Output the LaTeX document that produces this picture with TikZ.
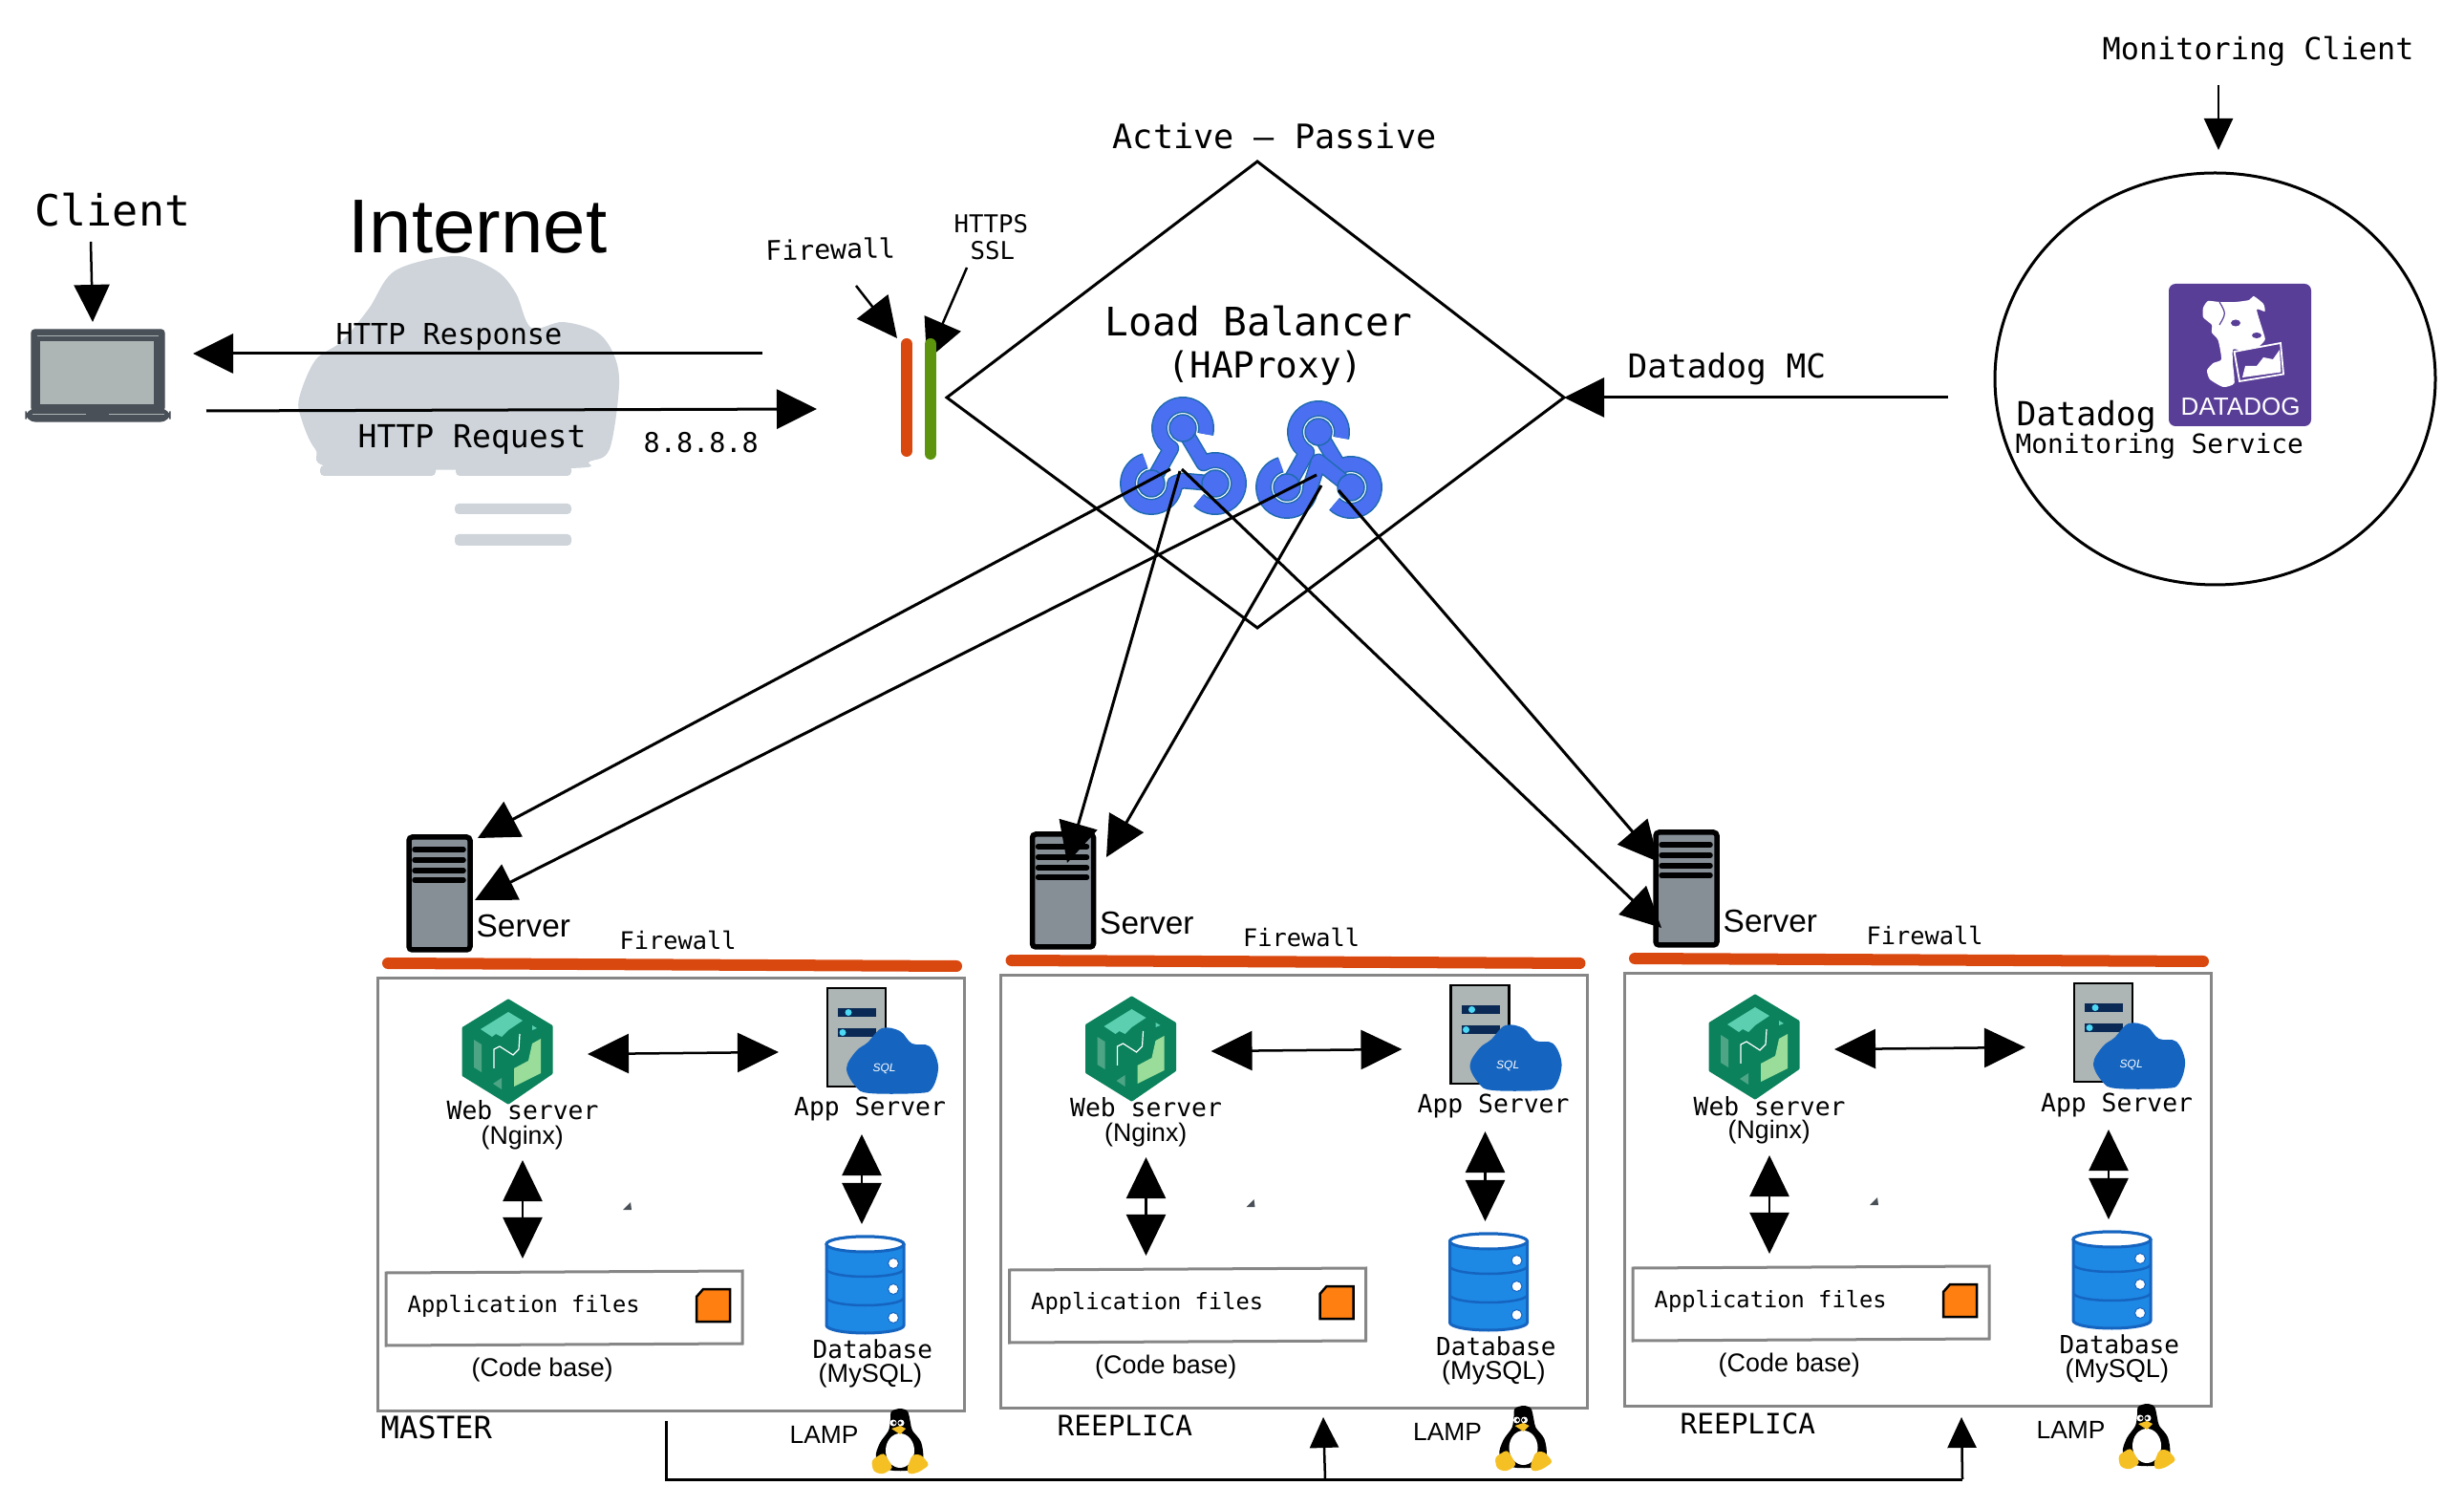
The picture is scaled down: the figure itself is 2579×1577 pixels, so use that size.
\documentclass[tikz,border=0pt]{standalone}
\usepackage{fontspec}
\setmainfont{Liberation Sans}
\setmonofont{DejaVu Sans Mono}
\definecolor{wallorange}{HTML}{D9480F}
\definecolor{wallgreen}{HTML}{5C940D}
\definecolor{cloudgray}{HTML}{CED4DA}
\definecolor{laptopdark}{HTML}{495057}
\definecolor{laptopscreen}{HTML}{ADB5B5}
\definecolor{towergray}{HTML}{868E96}
\definecolor{boxgray}{HTML}{868686}
\definecolor{hookfill}{HTML}{4A6FF0}
\definecolor{hookedge}{HTML}{1F6BB0}
\definecolor{dogpurple}{HTML}{593E98}
\definecolor{nginxdark}{HTML}{0B825C}
\definecolor{nginxteal}{HTML}{5BCFAF}
\definecolor{nginxmute}{HTML}{4DA586}
\definecolor{nginxlight}{HTML}{9ADD9A}
\definecolor{sqlblue}{HTML}{1565C0}
\definecolor{dbblue}{HTML}{1E88E5}
\definecolor{slotnavy}{HTML}{0A2A55}
\definecolor{slotcyan}{HTML}{4DD9F5}
\definecolor{fileorange}{HTML}{FF7F11}
\definecolor{tuxyellow}{HTML}{F5C024}
\usetikzlibrary{arrows.meta}
\tikzset{
  pics/webhook/.style={code={
    \draw[hookring] (-33,58) -- (120:24.5) arc[start angle=120, end angle=375, radius=24.5];
    \draw[hookring] (0,0) -- ([shift={(240:24.5)}]34,58) arc[start angle=240, end angle=495, radius=24.5];
    \draw[hookring] (34,58) -- (0,#1) -- ([shift={(0:24.5)}]-33,58) arc[start angle=0, end angle=255, radius=24.5];
    \foreach \dotx/\doty in {0/0,-33/58,34/58}
      \filldraw[draw=hookedge, fill=hookfill, line width=0.15mm] (\dotx,\doty) circle[radius=14];
  }},
  pics/tower/.style={code={
    \draw[line width=0.55mm, fill=towergray, rounded corners=1pt] (0,0) rectangle (64,118);
    \foreach \bary in {13,24,35,45}
      \draw[line width=0.55mm, line cap=round] (6,\bary) -- (57,\bary);
  }}
}

\begin{document}
\begin{tikzpicture}[
  x=0.01cm, y=-0.01cm,
  monolabel/.style={font=\ttfamily\fontsize{#1}{#1}\selectfont, anchor=base west, inner sep=0pt},
  sanslabel/.style={font=\fontsize{#1}{#1}\selectfont, anchor=base west, inner sep=0pt},
  hookring/.style={draw=hookedge, double=hookfill, double distance=1.4mm, line width=0.15mm, line join=round},
  bigarrow/.style={-{Triangle[length=4.2mm, width=4.1mm]}, line width=0.3mm},
  smallarrow/.style={-{Triangle[length=3.2mm, width=3mm]}, line width=0.25mm},
  pairarrow/.style={{Triangle[length=4.3mm, width=4.1mm]}-{Triangle[length=4.3mm, width=4.1mm]}, line width=0.25mm},
  wallbar/.style={line width=1.2mm, line cap=round},
  graybox/.style={draw=boxgray, line width=0.3mm}
]
  \useasboundingbox (0,0) rectangle (2579,1577);

  % Client and laptop
  \node[monolabel=12.8] (client) at (36,237) {Client};
  \filldraw[laptopdark, rounded corners=1pt] (33,345) rectangle (172,430);
  \filldraw[laptopdark, rounded corners=3pt] (27,428) rectangle (178,441);
  \fill[laptopscreen] (42,357) rectangle (161,423);
  \draw[laptopscreen, line width=0.1mm] (39,352) -- (166,352);
  \draw[laptopscreen, line width=0.1mm] (34,434) -- (90,434);
  \draw[laptopscreen, line width=0.1mm] (114,434) -- (172,434);
  \coordinate (clientfrom) at (95,253);
  \coordinate (laptoptop) at (97,337);
  \draw[smallarrow, -{Triangle[length=3.9mm, width=3.7mm]}] (clientfrom) -- (laptoptop);

  % Internet cloud
  \fill[cloudgray] plot[smooth cycle, tension=0.55] coordinates {
    (313,417) (330,377) (358,357) (386,323) (414,283) (477,268) (519,283) (540,307)
    (556,343) (589,337) (624,347) (642,370) (648,403) (638,470) (617,483) (596,490)
    (358,490) (330,470) (316,440)};
  \fill[cloudgray, rounded corners=1.2pt] (335,487) rectangle (456,498);
  \fill[cloudgray, rounded corners=1.2pt] (477,487) rectangle (598,498);
  \fill[cloudgray, rounded corners=1.2pt] (476,527) rectangle (598,538);
  \fill[cloudgray, rounded corners=1.2pt] (476,559) rectangle (598,571);
  \node[sanslabel=22.7] (internet) at (364,265) {Internet};

  % Traffic between the laptop and the firewall
  \coordinate (responsefrom) at (798,370);
  \coordinate (responseto) at (202,370);
  \coordinate (requestfrom) at (216,430);
  \coordinate (requestto) at (855,428);
  \draw[bigarrow] (responsefrom) -- (responseto);
  \draw[bigarrow] (requestfrom) -- (requestto);
  \node[monolabel=8.6] (response) at (351,361) {HTTP Response};
  \node[monolabel=9.4] (request) at (374,469) {HTTP Request};
  \node[monolabel=8.1] (dnsip) at (673,474) {8.8.8.8};

  % Firewall and SSL
  \node[monolabel=8, rotate=1.4] (frontwall) at (801,273) {Firewall};
  \node[monolabel=7.3] (https) at (998,244) {HTTPS};
  \node[monolabel=7.3] (ssl) at (1015,272) {SSL};
  \coordinate (wallfrom) at (896,299);
  \coordinate (wallto) at (939,354);
  \coordinate (sslfrom) at (1012,280);
  \coordinate (sslto) at (970,377);
  \draw[bigarrow, line width=0.25mm] (wallfrom) -- (wallto);
  \draw[bigarrow, line width=0.25mm] (sslfrom) -- (sslto);
  \draw[wallbar, wallorange] (949,360) -- (949,472);
  \draw[wallbar, wallgreen] (974,360) -- (974,475);

  % Load balancer
  \coordinate (lbleft) at (991,416);
  \coordinate (lbtop) at (1316,169);
  \coordinate (lbright) at (1637,416);
  \coordinate (lbbottom) at (1316,657);
  \draw[line width=0.3mm] (lbleft) -- (lbtop) -- (lbright) -- (lbbottom) -- cycle;
  \node[monolabel=10] (activepassive) at (1164,156) {Active – Passive};
  \node[monolabel=11.7] (lbname) at (1156,352) {Load Balancer};
  \node[monolabel=10.7] (lbproxy) at (1222,396) {(HAProxy)};
  \pic (hookone) at (1238,448) {webhook=55};
  \pic (hooktwo) at (1380,452) {webhook=31};

  % Datadog
  \node[monolabel=9.05] (monclient) at (2200,63) {Monitoring Client};
  \coordinate (monfrom) at (2322,89);
  \coordinate (monto) at (2322,157);
  \draw[-{Triangle[length=3.3mm, width=3mm]}, line width=0.25mm] (monfrom) -- (monto);
  \draw[line width=0.3mm] (2318.5,396.5) ellipse[x radius=230.5, y radius=215.5];
  \fill[dogpurple, rounded corners=2pt] (2270,297) rectangle (2419,446);
  \fill[white] plot[smooth cycle, tension=0.35] coordinates {
    (2306,322) (2311,315) (2323,316) (2340,316) (2354,314) (2359,310) (2369,318) (2370.5,326)
    (2362,324) (2369,348) (2370.5,356) (2360,366) (2343.5,366) (2337,366) (2337,380) (2338.5,401)
    (2327,405) (2313,397) (2310,387.5) (2316.5,380) (2325,376) (2321.6,356) (2315,348) (2315,340) (2306,332)};
  \draw[dogpurple, line width=0.12mm] (2323,316) .. controls (2330,328) .. (2323,340);
  \fill[dogpurple] (2340,338) ellipse[x radius=5, y radius=3.5];
  \fill[dogpurple] (2362,351) ellipse[x radius=5, y radius=3];
  \filldraw[draw=white, fill=dogpurple, line width=0.18mm] (2338.5,368) -- (2387,359) -- (2390,391.5) -- (2344,399) -- cycle;
  \fill[white] (2347,395) -- (2350,383) -- (2362,383) -- (2369,374) -- (2379,376) -- (2386,366) -- (2387.4,389.5) -- cycle;
  \node[sanslabel=7.4, text=white] (doglogo) at (2282,435) {DATADOG};
  \node[monolabel=9.85] (dogname) at (2110,446) {Datadog};
  \node[monolabel=7.9] (dogservice) at (2109,475) {Monitoring Service};
  \node[monolabel=9.8] (dogmc) at (1703,396) {Datadog MC};
  \coordinate (mcfrom) at (2039,416);
  \draw[bigarrow] (mcfrom) -- (lbright);

  % The three LAMP stacks
  \foreach \tier/\dx/\dy/\tag/\tagx/\tagy/\tagsize in {master/0/0/MASTER/398/1505/9.15,
    replicaone/652.5/-3/REEPLICA/1106/1502/8.35, replicatwo/1305/-5/REEPLICA/1758/1500/8.35} {
    \node[monolabel=\tagsize] (\tier tag) at (\tagx,\tagy) {\tag};
    \begin{scope}[shift={(\dx,\dy)}, name prefix=\tier-]
      \pic (server) at (428,876) {tower};
      \node[sanslabel=9.5] (servername) at (498,981) {Server};
      \node[monolabel=7.2] (wallname) at (648,994) {Firewall};
      \draw[wallbar, wallorange] (406,1008) -- (1001,1011);
      \draw[graybox] (395,1024) rectangle (1009,1476);

      % Web server
      \filldraw[draw=nginxdark, fill=nginxdark, line width=0.3mm, line join=round] (532,1047) -- (577,1074) -- (577,1123) -- (532,1154) -- (485,1125) -- (485,1076) -- cycle;
      \fill[nginxteal] (503,1077) -- (532,1059) -- (547,1068) -- (532,1078) -- (525,1085) -- (519,1082) -- (515,1085) -- cycle;
      \fill[nginxteal] (557,1073) -- (562,1076) -- (557,1078) -- cycle;
      \fill[nginxmute] (496,1088) -- (504,1093) -- (504,1122) -- (496,1117) -- cycle;
      \fill[nginxlight] (566,1087) -- (566,1123) -- (538,1137) -- (538,1118) -- (553,1110) -- (557,1092) -- cycle;
      \fill[nginxmute] (525,1128) -- (525,1140) -- (516,1134) -- cycle;
      \draw[white, line width=0.12mm] (517,1118) -- (517,1098) -- (523,1095) -- (537,1104) -- (543,1098) -- (544,1082);
      \node[monolabel=7.5] (webname) at (467,1172) {Web server};
      \node[sanslabel=7.6] (webkind) at (503,1197) {(Nginx)};

      % App server
      \draw[line width=0.25mm, fill=laptopscreen] (866,1034) rectangle (927,1137);
      \fill[slotnavy] (877,1055) rectangle (917,1064);
      \fill[slotnavy] (877,1076) rectangle (917,1085);
      \fill[slotcyan] (888,1059.5) circle[radius=3.5];
      \fill[slotcyan] (882,1080.5) circle[radius=3.5];
      \fill[sqlblue] plot[smooth cycle, tension=0.6] coordinates {
        (886,1118) (896,1100) (908,1091) (923,1076) (942,1079) (954.5,1092) (973,1095)
        (982,1116) (975.5,1139) (961,1144) (910,1144) (895.6,1137)};
      \node[sanslabel=2.8, text=white, font=\itshape\fontsize{3.4}{3.4}\selectfont] (sqlmark) at (913,1122) {SQL};
      \node[monolabel=7.5] (appname) at (830.5,1168) {App Server};

      % Links inside the stack
      \coordinate (webside) at (615,1103);
      \coordinate (appside) at (815,1101);
      \coordinate (webfoot) at (547,1214);
      \coordinate (filestop) at (547,1317);
      \coordinate (appfoot) at (902,1187);
      \coordinate (dbtop) at (902,1281);
      \draw[pairarrow] (webside) -- (appside);
      \draw[pairarrow] (webfoot) -- (filestop);
      \draw[pairarrow] (appfoot) -- (dbtop);
      \fill[laptopdark] (652,1266) -- (660,1258) -- (661,1266) -- cycle;

      % Application files
      \draw[graybox] (404,1332) -- (777,1330) -- (777,1406) -- (404,1408) -- cycle;
      \node[monolabel=6.75] (filesname) at (426,1373) {Application files};
      \filldraw[draw=black, fill=fileorange, line width=0.25mm] (729,1357) -- (736,1349) -- (764,1349) -- (764,1383) -- (729,1383) -- cycle;
      \node[sanslabel=7.65] (codebase) at (493,1440) {(Code base)};

      % Database
      \filldraw[draw=sqlblue, fill=dbblue, line width=0.3mm] (865,1302) -- (865,1387) arc[start angle=180, end angle=0, x radius=40.5, y radius=8] -- (946,1302) arc[start angle=0, end angle=-180, x radius=40.5, y radius=8] -- cycle;
      \filldraw[draw=sqlblue, fill=white, line width=0.3mm] (905.5,1302) ellipse[x radius=40.5, y radius=8];
      \draw[sqlblue, line width=0.25mm] (865,1328) arc[start angle=180, end angle=0, x radius=40.5, y radius=8];
      \draw[sqlblue, line width=0.25mm] (865,1358) arc[start angle=180, end angle=0, x radius=40.5, y radius=8];
      \foreach \doty in {1322,1349,1379}
        \filldraw[draw=sqlblue, fill=white, line width=0.1mm] (935,\doty) circle[radius=5.5];
      \node[monolabel=7.4] (dbname) at (850,1421) {Database};
      \node[sanslabel=7.7] (dbkind) at (856,1446) {(MySQL)};

      % LAMP and Tux
      \node[sanslabel=7.5] (lampname) at (826,1510) {LAMP};
      \fill[black] plot[smooth cycle, tension=0.5] coordinates {
        (932,1485) (933,1477) (942,1474) (950,1477) (953,1489) (955,1497) (964,1509)
        (966,1527) (955,1538) (930,1538) (917,1525) (921,1510) (930,1497)};
      \fill[white] (942,1518) ellipse[x radius=15, y radius=18];
      \fill[white] (935,1489) circle[radius=3.5];
      \fill[white] (943,1489) circle[radius=3.5];
      \fill[black] (936,1489) circle[radius=1.8];
      \fill[black] (942,1489) circle[radius=1.8];
      \fill[tuxyellow] (933,1495) -- (942,1492) -- (948,1495) -- (942,1501) -- cycle;
      \fill[tuxyellow, rounded corners=1pt] (912,1528) -- (925,1520) -- (935,1536) -- (924,1543) -- (914,1540) -- cycle;
      \fill[tuxyellow, rounded corners=1pt] (949,1537) -- (955,1522) -- (964,1522) -- (973,1533) -- (961,1541) -- (951,1543) -- cycle;
    \end{scope}
  }

  % Load balancer to the servers
  \coordinate (hookoneleft) at (1225,491);
  \coordinate (hookonetop) at (1235,493);
  \coordinate (hookoneright) at (1237,491);
  \coordinate (hooktwoleft) at (1378,497);
  \coordinate (hooktwomid) at (1383,508);
  \coordinate (hooktworight) at (1401,513);
  \coordinate (masterupper) at (500,877);
  \coordinate (masterlower) at (497,942);
  \coordinate (replicaonein) at (1117,903);
  \coordinate (replicaoneout) at (1158,897);
  \coordinate (replicatwoupper) at (1736,902);
  \coordinate (replicatwolower) at (1739,971);
  \draw[bigarrow, line width=0.3mm] (hookoneleft) -- (masterupper);
  \draw[bigarrow, line width=0.3mm] (hooktwoleft) -- (masterlower);
  \draw[bigarrow, line width=0.3mm] (hookonetop) -- (replicaonein);
  \draw[bigarrow, line width=0.3mm] (hooktwomid) -- (replicaoneout);
  \draw[bigarrow, line width=0.3mm] (hookoneright) -- (replicatwolower);
  \draw[bigarrow, line width=0.3mm] (hooktworight) -- (replicatwoupper);

  % Replication line
  \coordinate (syncstart) at (697,1487);
  \coordinate (synccorner) at (697,1548);
  \coordinate (syncmid) at (1387,1548);
  \coordinate (syncend) at (2054,1548);
  \coordinate (syncmidto) at (1385,1483);
  \coordinate (syncendto) at (2053,1483);
  \draw[line width=0.3mm] (syncstart) -- (synccorner) -- (syncend);
  \draw[smallarrow] (syncmid) -- (syncmidto);
  \draw[smallarrow] (syncend) -- (syncendto);
\end{tikzpicture}
\end{document}
